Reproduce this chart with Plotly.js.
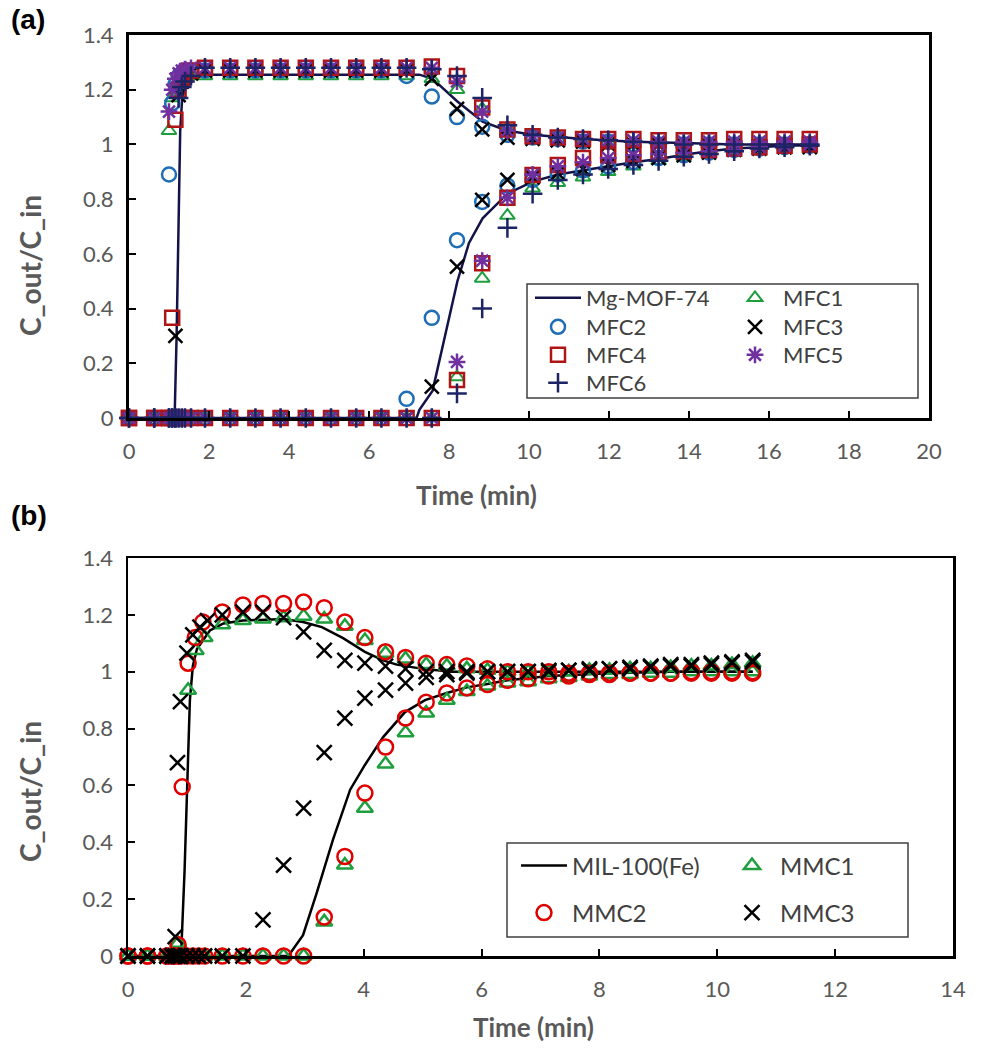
<!DOCTYPE html>
<html>
<head>
<meta charset="utf-8">
<script src="https://cdn.plot.ly/plotly-3.0.1.min.js"></script>
<style>html,body{margin:0;padding:0;background:#fff;}#chart{width:983px;height:1054px;}</style>
</head>
<body>
<div id="chart"></div>
<script>
// ---------- Panel (a) data ----------
const tA = [0, 0.63, 1.0, 1.08, 1.16, 1.24, 1.32, 1.4, 1.55,
  1.9, 2.53, 3.16, 3.79, 4.42, 5.05, 5.68, 6.31, 6.94, 7.57, 8.2, 8.83, 9.46, 10.09,
  10.72, 11.35, 11.98, 12.61, 13.24, 13.87, 14.5, 15.13, 15.76, 16.39, 17.02];

const MFC1_c1 = [0, 0, 1.05, 1.17, 1.21, 1.23, 1.24, 1.245, 1.25,
  1.25, 1.25, 1.25, 1.25, 1.25, 1.25, 1.25, 1.25, 1.25, 1.24, 1.2, 1.13, 1.06, 1.03,
  1.02, 1.01, 1.01, 1.0, 1.0, 1.0, 1.0, 1.0, 1.0, 1.0, 1.0];
const MFC1_c2 = [0, 0, 0, 0, 0, 0, 0, 0, 0,
  0, 0, 0, 0, 0, 0, 0, 0, 0, 0, 0.15, 0.51, 0.74, 0.84,
  0.86, 0.88, 0.9, 0.92, 0.94, 0.955, 0.965, 0.975, 0.985, 0.99, 0.995];

const MFC2_c1 = [0, 0, 0.89, 1.15, 1.22, 1.25, 1.26, 1.265, 1.27,
  1.27, 1.27, 1.27, 1.27, 1.27, 1.27, 1.27, 1.27, 1.25, 1.175, 1.1, 1.065, 1.035, 1.025,
  1.02, 1.01, 1.01, 1.0, 1.0, 1.0, 1.0, 1.0, 1.0, 1.0, 1.0];
const MFC2_c2 = [0, 0, 0, 0, 0, 0, 0, 0, 0,
  0, 0, 0, 0, 0, 0, 0, 0, 0.07, 0.366, 0.65, 0.79, 0.85, 0.87,
  0.89, 0.905, 0.92, 0.935, 0.95, 0.96, 0.97, 0.98, 0.985, 0.99, 0.995];

const MFC3_c1 = [0, 0, 0, 0, 0.30, 1.18, 1.23, 1.25, 1.26,
  1.27, 1.27, 1.27, 1.27, 1.27, 1.27, 1.27, 1.27, 1.27, 1.24, 1.13, 1.055, 1.025, 1.02,
  1.015, 1.01, 1.0, 1.0, 1.0, 0.995, 0.995, 0.995, 0.99, 0.99, 0.99];
const MFC3_c2 = [0, 0, 0, 0, 0, 0, 0, 0, 0,
  0, 0, 0, 0, 0, 0, 0, 0, 0, 0.115, 0.553, 0.797, 0.87, 0.88,
  0.895, 0.91, 0.925, 0.94, 0.95, 0.96, 0.97, 0.98, 0.985, 0.99, 0.995];

const MFC4_c1 = [0, 0, 0, 0.366, 1.09, 1.2, 1.24, 1.26, 1.27,
  1.28, 1.28, 1.28, 1.28, 1.28, 1.28, 1.28, 1.28, 1.28, 1.285, 1.25, 1.135, 1.055, 1.03,
  1.025, 1.02, 1.02, 1.02, 1.015, 1.015, 1.015, 1.02, 1.02, 1.02, 1.02];
const MFC4_c2 = [0, 0, 0, 0, 0, 0, 0, 0, 0,
  0, 0, 0, 0, 0, 0, 0, 0, 0, 0, 0.139, 0.566, 0.805, 0.888,
  0.925, 0.95, 0.96, 0.965, 0.97, 0.975, 0.98, 0.985, 0.99, 0.995, 1.0];

const MFC5_c1 = [0, 0, 1.12, 1.2, 1.24, 1.26, 1.27, 1.275, 1.28,
  1.28, 1.28, 1.28, 1.28, 1.28, 1.28, 1.28, 1.28, 1.28, 1.28, 1.23, 1.12, 1.05, 1.03,
  1.025, 1.02, 1.015, 1.015, 1.01, 1.01, 1.01, 1.01, 1.01, 1.01, 1.01];
const MFC5_c2 = [0, 0, 0, 0, 0, 0, 0, 0, 0,
  0, 0, 0, 0, 0, 0, 0, 0, 0, 0, 0.205, 0.575, 0.805, 0.89,
  0.92, 0.935, 0.95, 0.96, 0.965, 0.97, 0.975, 0.98, 0.99, 0.995, 1.0];

const MFC6_c1 = [0, 0, 0, 0, 0, 1.17, 1.21, 1.23, 1.25,
  1.28, 1.28, 1.28, 1.28, 1.28, 1.28, 1.28, 1.28, 1.28, 1.275, 1.25, 1.17, 1.07, 1.035,
  1.025, 1.02, 1.015, 1.01, 1.005, 1.0, 1.0, 1.0, 1.0, 1.0, 1.0];
const MFC6_c2 = [0, 0, 0, 0, 0, 0, 0, 0, 0,
  0, 0, 0, 0, 0, 0, 0, 0, 0, 0, 0.09, 0.40, 0.695, 0.82,
  0.87, 0.89, 0.91, 0.925, 0.94, 0.955, 0.965, 0.975, 0.985, 0.99, 0.995];

// Mg-MOF-74 model line (two curves)
const mofA_x1 = [0, 1.14, 1.19, 1.23, 1.28, 1.33, 1.42, 1.6, 1.9, 7.26, 7.59, 8.21, 8.84, 9.46, 10.09, 11.35, 12.61, 13.87, 15.13, 16.39, 17.03];
const mofA_y1 = [0, 0, 0.3, 0.7, 1.05, 1.17, 1.21, 1.24, 1.255, 1.255, 1.24, 1.157, 1.083, 1.05, 1.035, 1.02, 1.01, 1.005, 1.0, 1.0, 1.0];
const mofA_x2 = [0, 7.19, 7.26, 7.59, 7.9, 8.21, 8.5, 8.84, 9.46, 10.09, 10.72, 11.35, 11.98, 12.61, 13.24, 13.87, 14.5, 15.13, 15.76, 16.39, 17.03];
const mofA_y2 = [0, 0, 0.03, 0.10, 0.3, 0.5, 0.64, 0.73, 0.82, 0.864, 0.89, 0.906, 0.92, 0.935, 0.947, 0.962, 0.975, 0.985, 0.99, 0.995, 0.997];

// ---------- Panel (b) data ----------
const tB = [1.6, 1.95, 2.29, 2.64, 2.98, 3.33, 3.68, 4.02, 4.37, 4.71, 5.06, 5.41, 5.75, 6.1,
  6.44, 6.79, 7.14, 7.48, 7.83, 8.17, 8.52, 8.87, 9.21, 9.56, 9.9, 10.25, 10.6];
const tB_early2 = [0, 0.33, 0.66, 0.75, 0.8, 0.85, 0.9, 1.0, 1.1, 1.2, 1.3];
const zB_early2 = [0, 0, 0, 0, 0, 0, 0, 0, 0, 0, 0];

const MMC1_t1 = [0, 0.33, 0.66, 0.75, 0.85, 1.02, 1.15, 1.3];
const MMC1_e1 = [0, 0, 0, 0, 0.045, 0.935, 1.075, 1.12];
const MMC1_c1 = [1.165, 1.18, 1.185, 1.19, 1.195, 1.185, 1.16, 1.11, 1.065, 1.045, 1.025, 1.02, 1.01, 1.005,
  1.0, 1.0, 1.0, 1.0, 1.005, 1.005, 1.01, 1.01, 1.015, 1.02, 1.02, 1.025, 1.03];
const MMC1_c2 = [0, 0, 0, 0, 0, 0.12, 0.32, 0.52, 0.675, 0.785, 0.855, 0.9, 0.93, 0.95,
  0.96, 0.965, 0.975, 0.98, 0.985, 0.99, 0.99, 0.995, 0.995, 1.0, 1.0, 1.0, 1.0];

const MMC2_t1 = [0, 0.33, 0.66, 0.75, 0.85, 0.92, 1.02, 1.14, 1.27];
const MMC2_e1 = [0, 0, 0, 0, 0.04, 0.595, 1.03, 1.12, 1.175];
const MMC2_c1 = [1.21, 1.235, 1.24, 1.24, 1.245, 1.225, 1.175, 1.12, 1.07, 1.05, 1.03, 1.025, 1.02, 1.01,
  1.0, 1.0, 1.0, 0.995, 0.995, 0.995, 0.995, 0.995, 0.995, 0.995, 0.995, 0.995, 0.995];
const MMC2_c2 = [0, 0, 0, 0, 0, 0.137, 0.35, 0.573, 0.735, 0.837, 0.893, 0.925, 0.943, 0.955,
  0.97, 0.975, 0.985, 0.985, 0.99, 0.99, 0.995, 0.995, 0.995, 1.0, 1.0, 1.0, 1.0];

const MMC3_t1 = [0, 0.33, 0.66, 0.75, 0.8, 0.84, 0.89, 1.0, 1.1, 1.22, 1.35];
const MMC3_e1 = [0, 0, 0, 0, 0.068, 0.68, 0.895, 1.065, 1.13, 1.157, 1.18];
const MMC3_c1 = [1.2, 1.21, 1.21, 1.19, 1.14, 1.075, 1.04, 1.03, 1.02, 1.01, 1.0, 1.0, 1.0, 1.0,
  1.0, 1.0, 1.005, 1.005, 1.01, 1.01, 1.015, 1.02, 1.025, 1.025, 1.03, 1.035, 1.04];
const MMC3_c2 = [0, 0, 0.127, 0.32, 0.52, 0.715, 0.837, 0.907, 0.935, 0.96, 0.98, 0.99, 0.995, 1.0,
  1.0, 1.0, 1.0, 1.005, 1.005, 1.01, 1.01, 1.015, 1.02, 1.02, 1.025, 1.03, 1.035];

const milB_x1 = [0, 0.9, 0.96, 1.0, 1.05, 1.1, 1.17, 1.39, 1.62, 1.95, 2.64, 2.97, 3.29, 3.65, 4.02, 4.33, 4.56, 5.0, 5.5, 10.6];
const milB_y1 = [0, 0, 0.3, 0.6, 0.9, 1.02, 1.08, 1.145, 1.17, 1.18, 1.185, 1.175, 1.157, 1.118, 1.07, 1.04, 1.025, 1.01, 1.0, 1.0];
const milB_x2 = [0, 2.72, 2.97, 3.2, 3.48, 3.77, 4.02, 4.33, 4.7, 5.04, 5.41, 5.75, 6.1, 6.44, 7.14, 8.17, 9.21, 10.6];
const milB_y2 = [0, 0, 0.073, 0.22, 0.41, 0.585, 0.672, 0.77, 0.858, 0.9, 0.925, 0.945, 0.957, 0.97, 0.985, 0.995, 1.0, 1.0];

// ---------- helpers ----------
const W = 983, H = 1054;
const fx = p => p / W;
const fy = p => 1 - p / H;
const FONT = 'Lato, "Open Sans", sans-serif';
const GREY = '#595959';

function mk(name, x, y, symbol, color, size, lw, axes, legend) {
  return {
    type: 'scatter', mode: 'markers', name: name, x: x, y: y,
    xaxis: axes[0], yaxis: axes[1], cliponaxis: false, legend: legend,
    marker: {symbol: symbol, size: size, color: color, line: {color: color, width: lw}}
  };
}

const A = ['x', 'y'], B = ['x2', 'y2'];
const traces = [
  {type: 'scatter', mode: 'lines', name: 'Mg-MOF-74', xaxis: 'x', yaxis: 'y', cliponaxis: false,
   x: mofA_x1.concat([null], mofA_x2), y: mofA_y1.concat([null], mofA_y2),
   line: {color: '#13134a', width: 2.5}, legend: 'legend', connectgaps: false},
  mk('MFC1', tA.concat(tA), MFC1_c1.concat(MFC1_c2), 'triangle-up-open', '#1f9e3e', 13, 2, A, 'legend2'),
  mk('MFC2', tA.concat(tA), MFC2_c1.concat(MFC2_c2), 'circle-open', '#1f6db4', 14, 2.5, A, 'legend3'),
  mk('MFC3', tA.concat(tA), MFC3_c1.concat(MFC3_c2), 'x-thin-open', '#000000', 14, 2.5, A, 'legend4'),
  mk('MFC4', tA.concat(tA), MFC4_c1.concat(MFC4_c2), 'square-open', '#b01515', 14, 2.5, A, 'legend5'),
  mk('MFC5', tA.concat(tA), MFC5_c1.concat(MFC5_c2), 'asterisk-open', '#7030a0', 14, 2.5, A, 'legend6'),
  mk('MFC6', tA.concat(tA), MFC6_c1.concat(MFC6_c2), 'cross-thin-open', '#1c2466', 14, 2.5, A, 'legend7'),

  {type: 'scatter', mode: 'lines', name: 'MIL-100(Fe)', xaxis: 'x2', yaxis: 'y2', cliponaxis: false,
   x: milB_x1.concat([null], milB_x2), y: milB_y1.concat([null], milB_y2),
   line: {color: '#000000', width: 2.5}, legend: 'legend8'},
  mk('MMC1', MMC1_t1.concat(tB, tB_early2, tB), MMC1_e1.concat(MMC1_c1, zB_early2, MMC1_c2), 'triangle-up-open', '#1f9e3e', 14, 2.5, B, 'legend9'),
  mk('MMC2', MMC2_t1.concat(tB, tB_early2, tB), MMC2_e1.concat(MMC2_c1, zB_early2, MMC2_c2), 'circle-open', '#e00000', 15, 2.5, B, 'legend10'),
  mk('MMC3', MMC3_t1.concat(tB, tB_early2, tB), MMC3_e1.concat(MMC3_c1, zB_early2, MMC3_c2), 'x-thin-open', '#000000', 15, 2.5, B, 'legend11')
];

function axisX(domain, max, anchor, lw) {
  return {domain: domain, range: [0, max], anchor: anchor, tickmode: 'linear', tick0: 0, dtick: 2,
    showgrid: false, zeroline: false, showline: true, linecolor: '#000', linewidth: lw, mirror: true,
    ticks: 'inside', ticklen: 7, tickwidth: 2, tickcolor: '#000',
    tickfont: {family: FONT, size: 22, color: GREY}, ticklabelstandoff: 12};
}
function axisY(domain, anchor, lw) {
  return {domain: domain, range: [0, 1.4], anchor: anchor, tickmode: 'linear', tick0: 0, dtick: 0.2,
    showgrid: false, zeroline: false, showline: true, linecolor: '#000', linewidth: lw, mirror: true,
    ticks: 'inside', ticklen: 7, tickwidth: 2, tickcolor: '#000',
    tickfont: {family: FONT, size: 22, color: GREY}, ticklabelstandoff: 8};
}

// one legend per entry, each placed on its row/column of the legend box
const leg = (x, yc, size) => ({x: fx(x), y: fy(yc), xanchor: 'left', yanchor: 'middle',
  bgcolor: 'rgba(0,0,0,0)', borderwidth: 0, font: {family: FONT, size: size, color: '#404040'},
  itemwidth: 46, orientation: 'v'});

const layout = {
  width: W, height: H, margin: {l: 0, r: 0, t: 0, b: 0},
  paper_bgcolor: '#fff', plot_bgcolor: '#fff', showlegend: true,
  xaxis: axisX([fx(129), fx(929)], 20, 'y', 3),
  yaxis: axisY([fy(418), fy(35)], 'x', 3),
  xaxis2: axisX([fx(128), fx(953)], 14, 'y2', 2.5),
  yaxis2: axisY([fy(956), fy(558)], 'x2', 2.5),
  legend:   leg(530, 298, 22),
  legend2:  leg(727, 298, 22),
  legend3:  leg(530, 327, 22),
  legend4:  leg(727, 327, 22),
  legend5:  leg(530, 355, 22),
  legend6:  leg(727, 355, 22),
  legend7:  leg(530, 383, 22),
  legend8:  leg(516, 866, 24),
  legend9:  leg(724, 866, 24),
  legend10: leg(516, 913, 24),
  legend11: leg(724, 913, 24),
  shapes: [
    {type: 'rect', xref: 'paper', yref: 'paper', x0: fx(527), x1: fx(918), y0: fy(398), y1: fy(284),
     line: {color: '#404040', width: 1.5}, fillcolor: '#fff', layer: 'above'},
    {type: 'rect', xref: 'paper', yref: 'paper', x0: fx(507), x1: fx(908), y0: fy(937), y1: fy(843),
     line: {color: '#404040', width: 1.5}, fillcolor: '#fff', layer: 'above'}
  ],
  annotations: [
    {text: '<b>(a)</b>', xref: 'paper', yref: 'paper', x: fx(9), y: fy(19), xanchor: 'left', yanchor: 'middle', showarrow: false, font: {family: '"Liberation Sans", Arial, sans-serif', size: 28, color: '#000'}},
    {text: '<b>(b)</b>', xref: 'paper', yref: 'paper', x: fx(9), y: fy(516), xanchor: 'left', yanchor: 'middle', showarrow: false, font: {family: '"Liberation Sans", Arial, sans-serif', size: 28, color: '#000'}},
    {text: '<b>C_out/C_in</b>', xref: 'paper', yref: 'paper', x: fx(30), y: fy(266), xanchor: 'center', yanchor: 'middle', textangle: -90, showarrow: false, font: {family: FONT, size: 28, color: GREY}},
    {text: '<b>C_out/C_in</b>', xref: 'paper', yref: 'paper', x: fx(30), y: fy(792), xanchor: 'center', yanchor: 'middle', textangle: -90, showarrow: false, font: {family: FONT, size: 28, color: GREY}},
    {text: '<b>Time (min)</b>', xref: 'paper', yref: 'paper', x: fx(476), y: fy(495), xanchor: 'center', yanchor: 'middle', showarrow: false, font: {family: FONT, size: 26, color: GREY}},
    {text: '<b>Time (min)</b>', xref: 'paper', yref: 'paper', x: fx(533), y: fy(1027), xanchor: 'center', yanchor: 'middle', showarrow: false, font: {family: FONT, size: 26, color: GREY}}
  ]
};

Plotly.newPlot('chart', traces, layout, {displayModeBar: false, staticPlot: true});
</script>
</body>
</html>
